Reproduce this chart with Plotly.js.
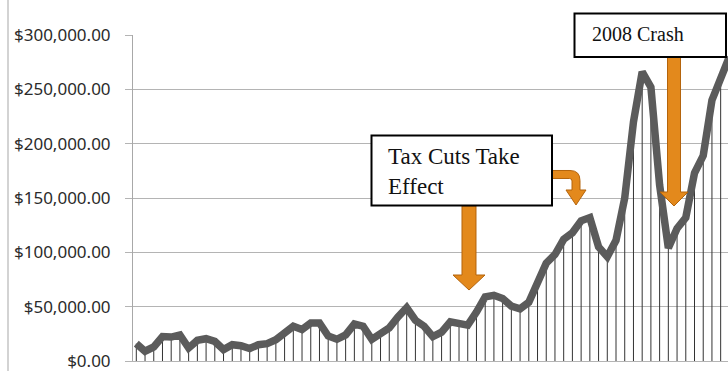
<!DOCTYPE html>
<html>
<head>
<meta charset="utf-8">
<script src="https://cdn.plot.ly/plotly-3.0.1.min.js"></script>
<style>
html,body{margin:0;padding:0;background:#fff;overflow:hidden;}
#chart{width:728px;height:371px;}
</style>
</head>
<body>
<div id="chart"></div>
<script>
// ---- data (in dollars) ----
var values = [
  16000, 9000, 13000, 22500, 22000, 24000, 12000, 19000, 20500, 18000,
  10500, 15000, 14000, 11500, 15000, 16000, 19500, 25000, 32000, 29000,
  35000, 35000, 23000, 20000, 24000, 34000, 32000, 20000, 25000, 30500,
  40500, 49000, 37500, 32000, 22500, 26500, 36000, 35000, 33000, 45000,
  59000, 60500, 57500, 50500, 48000, 54000, 71000, 90000, 98000, 112000,
  118000, 129000, 132000, 105000, 96000, 111000, 150000, 220000, 266000, 252000,
  162000, 104000, 122000, 132000, 173000, 189000, 240000, 262000, 280000
];
var periods = values.map(function (v, i) { return i; });
var tickValues = [0, 50000, 100000, 150000, 200000, 250000, 300000];
var tickLabels = ["$0.00", "$50,000.00", "$100,000.00", "$150,000.00", "$200,000.00", "$250,000.00", "$300,000.00"];
var noteTax = "Tax Cuts Take<br>Effect";
var noteCrash = "2008 Crash";

// ---- layout helpers (pixel -> paper) ----
var W = 728, H = 371, ML = 133, MR = 0, MT = 35, MB = 10;
var PW = W - ML - MR, PH = H - MT - MB;
function px(x) { return (x - ML) / PW; }
function py(y) { return (H - MB - y) / PH; }
function P(x, y) { return px(x).toFixed(5) + "," + py(y).toFixed(5); }

var orange = "#E3891C", orangeEdge = "#B4640C";

var arrowTax = "M" + P(462, 206) + " L" + P(476, 206) + " L" + P(476, 275) + " L" + P(485, 275) +
  " L" + P(469, 290) + " L" + P(453, 275) + " L" + P(462, 275) + " Z";
var arrowCrash = "M" + P(667.5, 57) + " L" + P(680.5, 57) + " L" + P(680.5, 192) + " L" + P(688, 192) +
  " L" + P(674, 206) + " L" + P(660, 192) + " L" + P(667.5, 192) + " Z";
var arrowCurve = "M" + P(552, 170.5) + " L" + P(570, 170.5) + " Q" + P(580, 170.5) + " " + P(580, 180.5) +
  " L" + P(580, 190) + " L" + P(586, 190) + " L" + P(576, 205) + " L" + P(566, 190) + " L" + P(572, 190) +
  " L" + P(572, 181) + " Q" + P(572, 178.5) + " " + P(569.5, 178.5) + " L" + P(552, 178.5) + " Z";

var traces = [
  {
    x: periods, y: values, type: "scatter", mode: "markers",
    marker: { size: 1, color: "rgba(0,0,0,0)" },
    error_y: {
      type: "data", symmetric: false,
      array: values.map(function () { return 0; }),
      arrayminus: values,
      width: 0, thickness: 1, color: "#333333"
    },
    hoverinfo: "skip", showlegend: false
  },
  {
    x: periods, y: values, type: "scatter", mode: "lines",
    line: { color: "#5b5b5b", width: 7.5 },
    showlegend: false
  }
];

var layout = {
  width: W, height: H,
  margin: { l: ML, r: MR, t: MT, b: MB, pad: 0 },
  paper_bgcolor: "#ffffff", plot_bgcolor: "#ffffff",
  showlegend: false,
  xaxis: {
    range: [-0.38, 67.84], showgrid: false, zeroline: false,
    showticklabels: false, ticks: "", fixedrange: true,
    showline: true, linecolor: "#b4b4b4", linewidth: 1
  },
  yaxis: {
    range: [0, 300000], tickmode: "array", tickvals: tickValues, ticktext: tickLabels,
    showgrid: true, gridcolor: "#b4b4b4", gridwidth: 1,
    zeroline: false,
    showline: true, linecolor: "#a8a8a8", linewidth: 1,
    ticks: "outside", ticklen: 7, tickcolor: "#b4b4b4", tickwidth: 1,
    ticklabelstandoff: 11, ticklabeloverflow: "allow",
    tickfont: { family: "Noto Sans, Open Sans, sans-serif", size: 17, color: "#2b2b2b" },
    fixedrange: true
  },
  shapes: [
    { type: "line", xref: "paper", yref: "paper", x0: px(8), x1: px(8), y0: py(0), y1: py(371),
      line: { color: "#c4c4c4", width: 1.5 }, layer: "above" },
    { type: "path", xref: "paper", yref: "paper", path: arrowTax, fillcolor: orange,
      line: { color: orangeEdge, width: 1 }, layer: "above" },
    { type: "path", xref: "paper", yref: "paper", path: arrowCurve, fillcolor: orange,
      line: { color: orangeEdge, width: 1 }, layer: "above" },
    { type: "path", xref: "paper", yref: "paper", path: arrowCrash, fillcolor: orange,
      line: { color: orangeEdge, width: 1 }, layer: "above" },
    { type: "rect", xref: "paper", yref: "paper", x0: px(371.5), x1: px(552), y0: py(135.5), y1: py(205.5),
      fillcolor: "#ffffff", line: { color: "#000000", width: 2 }, layer: "above" },
    { type: "rect", xref: "paper", yref: "paper", x0: px(574.5), x1: px(726), y0: py(13.5), y1: py(57),
      fillcolor: "#ffffff", line: { color: "#000000", width: 2 }, layer: "above" }
  ],
  annotations: [
    { xref: "paper", yref: "paper", x: px(386), y: py(171.5), xanchor: "left", yanchor: "middle",
      align: "left", showarrow: false, text: noteTax,
      font: { family: "Liberation Serif, Times New Roman, serif", size: 23, color: "#111111" } },
    { xref: "paper", yref: "paper", x: px(590), y: py(34), xanchor: "left", yanchor: "middle",
      align: "left", showarrow: false, text: noteCrash,
      font: { family: "Liberation Serif, Times New Roman, serif", size: 20, color: "#111111" } }
  ]
};

Plotly.newPlot("chart", traces, layout, { displayModeBar: false, staticPlot: true });
</script>
</body>
</html>
